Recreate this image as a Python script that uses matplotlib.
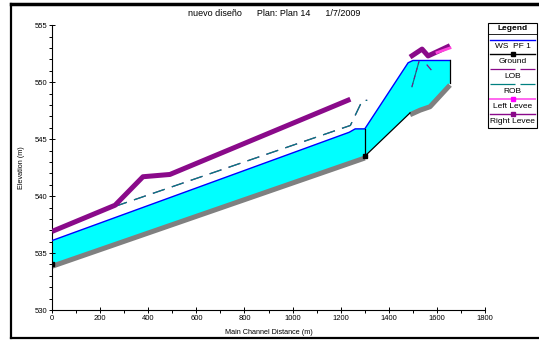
import matplotlib
matplotlib.use("Agg")
import matplotlib.pyplot as plt
from matplotlib.lines import Line2D
from matplotlib.patches import Rectangle
from matplotlib.transforms import offset_copy
import numpy as np

plt.rcParams['font.family'] = ['Liberation Sans', 'DejaVu Sans']

# water surface profile (WS PF 1)
ws_x = [0, 1235, 1260, 1300, 1480, 1500, 1654]
ws_y = [536.1, 545.6, 545.9, 545.9, 551.7, 551.9, 551.9]

# ground profile
gnd_x = [0, 1300, 1488, 1530, 1571, 1654]
gnd_y = [534.0, 543.5, 547.3, 547.7, 548.0, 549.9]

# right levee (thick purple)
rlev1_x = [0, 262, 378, 490, 1240]
rlev1_y = [536.9, 539.2, 541.7, 541.9, 548.5]
rlev2_x = [1488, 1538, 1563, 1654]
rlev2_y = [552.2, 552.9, 552.3, 553.2]

# left levee (pink)
llev_x = [1600, 1654]
llev_y = [552.6, 553.0]

# bank stations
bank_x = [262, 1240, 1290, 1310]
bank_y = [539.1, 546.2, 548.4, 548.4]
bank2_x = [1496, 1525]
bank2_y = [549.6, 551.8]
lob3_x = [1559, 1575]
lob3_y = [551.5, 551.1]

PURPLE = '#8a0a8a'

fig = plt.figure(figsize=(5.39, 3.40), dpi=100)
ax = fig.add_axes([0.0965, 0.088, 0.8035, 0.838])

# water fill
poly_x = np.r_[ws_x, gnd_x[::-1]]
poly_y = np.r_[ws_y, gnd_y[::-1]]
ax.fill(poly_x, poly_y, color='#00ffff', lw=0, zorder=1)
ax.plot(ws_x, ws_y, color='#0000ff', lw=1.0, zorder=3)

# ground: gray band below the line
shift = offset_copy(ax.transData, fig=fig, y=-1.8, units='dots')
ax.plot(gnd_x[:2], gnd_y[:2], color='#808080', lw=3.6, transform=shift, zorder=2, solid_capstyle='butt')
ax.plot(gnd_x[2:], gnd_y[2:], color='#808080', lw=3.6, transform=shift, zorder=2, solid_capstyle='butt')
ax.plot(gnd_x[1:3], gnd_y[1:3], color='black', lw=0.9, zorder=3)
ax.plot([gnd_x[1], gnd_x[1]], [gnd_y[1], ws_y[3]], color='black', lw=0.9, zorder=3)
ax.plot([gnd_x[-1], gnd_x[-1]], [gnd_y[-1], ws_y[-1]], color='black', lw=0.9, zorder=3)
ax.plot([gnd_x[1]], [gnd_y[1]], marker='s', color='black', ms=3.5, zorder=4)
ax.plot([gnd_x[0]], [gnd_y[0]], marker='s', color='black', ms=2.5, zorder=4)

# bank lines
ax.plot(bank_x, bank_y, color=PURPLE, lw=0.9, dashes=(10, 6), zorder=3)
ax.plot(bank_x, bank_y, color='#008080', lw=0.9, dashes=(10, 6), zorder=3)
ax.plot(bank2_x, bank2_y, color='#008080', lw=0.9, zorder=3)
ax.plot(bank2_x, bank2_y, color=PURPLE, lw=0.7, dashes=(4, 4), zorder=3)
ax.plot(lob3_x, lob3_y, color=PURPLE, lw=0.9, zorder=3)

# levees
ax.plot(rlev1_x, rlev1_y, color=PURPLE, lw=3.6, zorder=4, solid_capstyle='butt')
ax.plot(rlev2_x, rlev2_y, color=PURPLE, lw=3.6, zorder=4, solid_capstyle='butt')
ax.plot(llev_x, llev_y, color='#ff44dd', lw=2.0, zorder=5)

ax.set_xlim(0, 1800)
ax.set_ylim(530, 555)
ax.set_xticks(np.arange(0, 1801, 200))
ax.set_xticks(np.arange(0, 1801, 100), minor=True)
ax.set_yticks(np.arange(530, 556, 5))
ax.set_yticks(np.arange(530, 556, 1), minor=True)
for s in ['top', 'right']:
    ax.spines[s].set_visible(False)
for s in ['left', 'bottom']:
    ax.spines[s].set_linewidth(0.8)
ax.tick_params(which='major', direction='inout', length=4, width=0.7, labelsize=5.5, pad=1.5)
ax.tick_params(which='minor', direction='out', length=2, width=0.7)
ax.set_xlabel('Main Channel Distance (m)', fontsize=5.2, labelpad=5)
ax.set_ylabel('Elevation (m)', fontsize=5.2, labelpad=7)

fig.text(274 / 539, 1 - 13 / 340, 'nuevo diseño      Plan: Plan 14      1/7/2009',
         ha='center', va='center', fontsize=6.5)

# figure frame
W, H = 539.0, 340.0
fig.add_artist(Line2D([11 / W, 1], [1 - 4 / H, 1 - 4 / H], color='black', lw=2.5, transform=fig.transFigure))
fig.add_artist(Line2D([11 / W, 11 / W], [2 / H, 1 - 4 / H], color='black', lw=1.6, transform=fig.transFigure))
fig.add_artist(Line2D([11 / W, 1], [2 / H, 2 / H], color='black', lw=1.6, transform=fig.transFigure))

# legend box
lx0, lx1, ly0, ly1 = 488, 537, 23, 128
fig.add_artist(Rectangle((lx0 / W, 1 - ly1 / H), (lx1 - lx0) / W, (ly1 - ly0) / H,
                         fill=True, facecolor='white', edgecolor='black', lw=0.8,
                         transform=fig.transFigure, zorder=10))
fig.add_artist(Line2D([lx0 / W, lx1 / W], [1 - 34 / H, 1 - 34 / H], color='black', lw=0.6,
                      transform=fig.transFigure, zorder=11))
fig.text((lx0 + lx1) / 2 / W, 1 - 29 / H, 'Legend', ha='center', va='center',
         fontsize=6.0, fontweight='bold', zorder=12)

entries = [
    ('WS  PF 1', dict(color='#0000ff', lw=1.0), None),
    ('Ground', dict(color='black', lw=1.0), dict(marker='s', color='black', ms=2.5)),
    ('LOB', dict(color=PURPLE, lw=0.9, dashes=(20, 4)), None),
    ('ROB', dict(color='#008080', lw=0.9, dashes=(20, 4)), None),
    ('Left Levee', dict(color='#ff66ee', lw=1.4), dict(marker='s', color='#ff00ff', ms=2.5)),
    ('Right Levee', dict(color=PURPLE, lw=1.0), dict(marker='s', color=PURPLE, ms=2.5)),
]
y = 39.5
for label, lstyle, mstyle in entries:
    yy = 1 - y / H
    fig.add_artist(Line2D([(lx0 + 2) / W, (lx1 - 2) / W], [yy, yy], transform=fig.transFigure,
                          zorder=11, **lstyle))
    if mstyle:
        fig.add_artist(Line2D([(lx0 + lx1) / 2 / W], [yy], transform=fig.transFigure,
                              zorder=12, lw=0, **mstyle))
    fig.text((lx0 + lx1) / 2 / W, 1 - (y + 7.5) / H, label, ha='center', va='center',
             fontsize=6.0, zorder=12)
    y += 14.9

fig.savefig('out.png', dpi=100)
